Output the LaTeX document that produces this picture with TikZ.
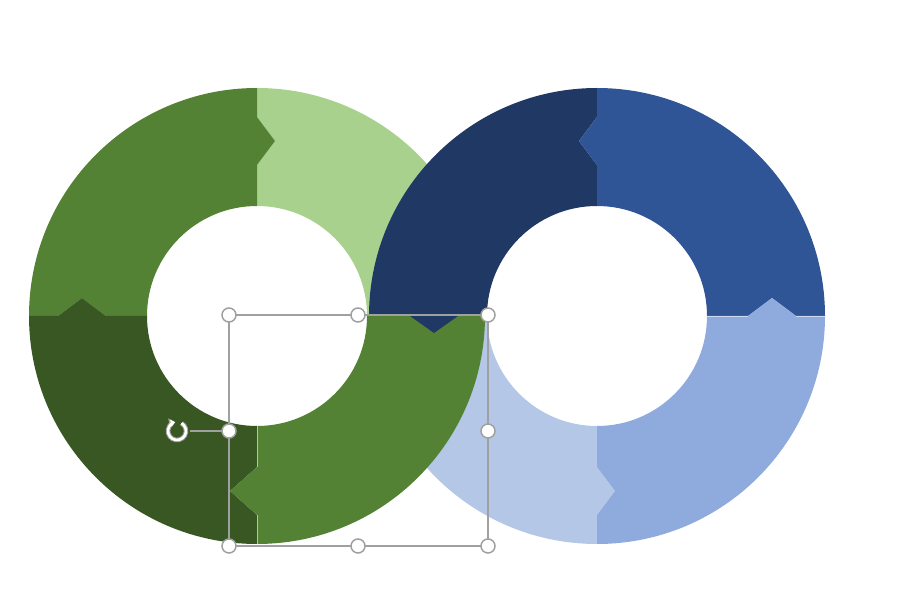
\documentclass[tikz,border=0pt]{standalone}
\usetikzlibrary{arrows.meta}
\definecolor{gA}{HTML}{548235}
\definecolor{gB}{HTML}{A9D18E}
\definecolor{gC}{HTML}{385723}
\definecolor{bA}{HTML}{203864}
\definecolor{bB}{HTML}{2F5597}
\definecolor{bC}{HTML}{B4C7E7}
\definecolor{bD}{HTML}{8FAADC}
\definecolor{selgray}{RGB}{160,160,160}
\def\RingOut{228}
\def\RingIn{110}
\def\RingW{24}
% #1,#2 centre; #3 tail angle; #4 head angle; #5 tail depth; #6 head depth;
% #7 head chevron radius; #8 tail chevron radius; #9 colour
\newcommand\ringseg[9]{%
 \pgfmathsetmacro\segSg{sign(#4-#3)}%
 \pgfmathsetmacro\segHx{#7*cos(#4)+#6*cos(#4+\segSg*90)}%
 \pgfmathsetmacro\segHy{#7*sin(#4)+#6*sin(#4+\segSg*90)}%
 \pgfmathsetmacro\segTx{#8*cos(#3)+#5*cos(#3+\segSg*90)}%
 \pgfmathsetmacro\segTy{#8*sin(#3)+#5*sin(#3+\segSg*90)}%
 \fill[#9,shift={(#1,#2)}] ({#3}:{\RingOut}) arc[start angle=#3,end angle=#4,radius=\RingOut pt]
   -- ({#4}:{#7+\RingW}) -- (\segHx,\segHy) -- ({#4}:{#7-\RingW}) -- ({#4}:{\RingIn})
   arc[start angle=#4,end angle=#3,radius=\RingIn pt]
   -- ({#3}:{#8-\RingW}) -- (\segTx,\segTy) -- ({#3}:{#8+\RingW}) -- cycle;
}
\tikzset{
  handle/.style={circle,draw=selgray,fill=white,line width=1.5pt,minimum size=14pt,inner sep=0pt},
  selline/.style={draw=selgray,line width=1.4pt},
  gapline/.style={white,line width=0.7pt,opacity=0.55}
}
\begin{document}
\begin{tikzpicture}[x=1pt,y=1pt]
\useasboundingbox (0,0) rectangle (897,611);
% right ring, lower-left part (under the green)
\ringseg{597}{295}{180}{270}{0}{18}{175}{175}{bC}
% left ring
\ringseg{257}{295}{90}{0}{18}{0}{175}{175}{gB}
\ringseg{257}{295}{180}{90}{18}{18}{175}{175}{gA}
\ringseg{257}{295}{-90}{-180}{27}{18}{175}{175}{gC}
\ringseg{257}{295}{0}{-90}{0}{27}{175}{175}{gA}
% right ring, remaining parts
\ringseg{597}{295}{90}{180}{18}{17}{163}{175}{bA}
\ringseg{597}{295}{0}{90}{18}{18}{175}{175}{bB}
\ringseg{597}{295}{270}{360}{18}{18}{175}{175}{bD}
% thin gaps between parts
\draw[gapline] (257,185) -- (257,144) (257,96) -- (257,67);
\draw[gapline] (707,295) -- (748,295) (796,295) -- (825,295);
% selection frame
\coordinate (ctl) at (229,296);
\coordinate (ctm) at (358,296);
\coordinate (ctr) at (488,296);
\coordinate (cml) at (229,180);
\coordinate (cmr) at (488,180);
\coordinate (cbl) at (229,65);
\coordinate (cbm) at (358,65);
\coordinate (cbr) at (488,65);
\draw[selline] (ctl) rectangle (cbr);
\node[minimum size=26pt,inner sep=0pt] (rot) at (177,180) {};
\draw[selline] (rot.east) -- (cml);
\foreach \c in {tl,tm,tr,ml,mr,bl,bm,br}{\node[handle] (h\c) at (c\c) {};}
% rotation icon
\draw[selgray,line width=4.6pt,-{Triangle[length=6pt,width=10pt]}] ([shift={(60:9)}]rot.center) arc[start angle=60,end angle=-258,radius=9pt];
\draw[white,line width=2.6pt,-{Triangle[length=4.4pt,width=7pt]}] ([shift={(60:9)}]rot.center) arc[start angle=60,end angle=-258,radius=9pt];
\end{tikzpicture}
\end{document}
